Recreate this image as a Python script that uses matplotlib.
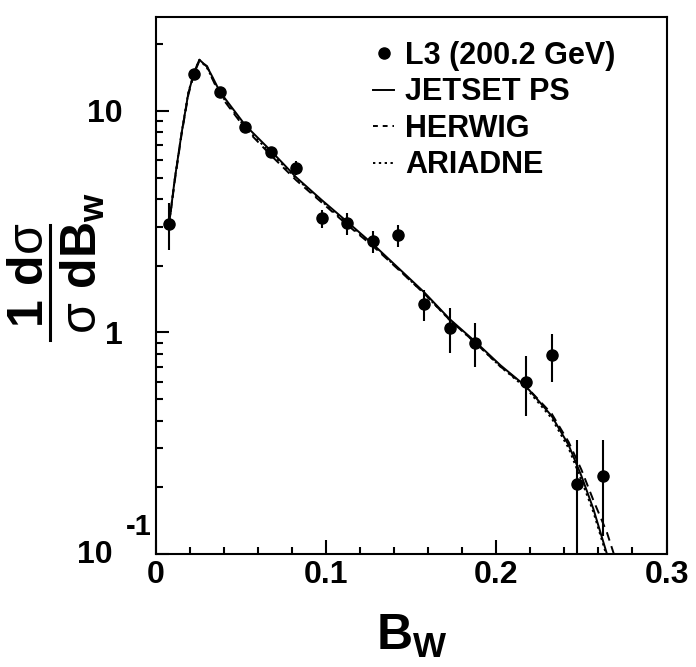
import matplotlib
matplotlib.use("Agg")
import matplotlib.pyplot as plt
from matplotlib.lines import Line2D
from matplotlib.ticker import FixedLocator, MultipleLocator, NullFormatter, FuncFormatter
import numpy as np

plt.rcParams['font.family'] = ['Liberation Sans', 'DejaVu Sans']
plt.rcParams['font.weight'] = 'bold'
plt.rcParams['mathtext.fontset'] = 'custom'
plt.rcParams['mathtext.bf'] = 'Liberation Sans:bold'
plt.rcParams['mathtext.rm'] = 'Liberation Sans:weight=normal'
plt.rcParams['mathtext.it'] = 'Liberation Sans:italic'

# ---- data (L3, 200.2 GeV) ----
data_x = [0.0075, 0.0225, 0.0375, 0.0525, 0.0675, 0.0825, 0.0975, 0.1125, 0.1275,
          0.1425, 0.1575, 0.1725, 0.1875, 0.2175, 0.2325, 0.2475, 0.2625]
data_y = [3.1, 14.7, 12.2, 8.47, 6.54, 5.53, 3.27, 3.11, 2.58,
          2.74, 1.34, 1.05, 0.90, 0.60, 0.79, 0.206, 0.224]
data_err = [0.75, 0.5, 0.4, 0.35, 0.3, 0.4, 0.3, 0.35, 0.3,
            0.32, 0.22, 0.24, 0.2, 0.18, 0.19, 0.12, 0.103]

# ---- MC predictions ----
mc_x = [0.0075, 0.0110, 0.0150, 0.0190, 0.0225, 0.0255, 0.0300, 0.0330, 0.0375,
        0.0525, 0.0675, 0.0825, 0.0975, 0.1125, 0.1275, 0.1425, 0.1575, 0.1725,
        0.1875, 0.2025, 0.2175, 0.2325, 0.2425, 0.2500, 0.2570, 0.2650, 0.2700]
jetset_y = [3.0, 4.9, 7.9, 12.0, 15.0, 17.0, 15.8, 14.3, 12.2,
            8.6, 6.6, 5.0, 3.95, 3.15, 2.5, 1.95, 1.52, 1.15,
            0.91, 0.71, 0.57, 0.42, 0.31, 0.225, 0.16, 0.10, 0.075]
herwig_y = [3.0, 4.8, 7.8, 11.8, 14.8, 16.8, 15.9, 14.0, 11.8,
            8.3, 6.3, 4.85, 3.85, 3.05, 2.45, 1.92, 1.50, 1.14,
            0.90, 0.70, 0.57, 0.43, 0.32, 0.24, 0.175, 0.125, 0.095]
ariadne_y = [3.0, 4.9, 7.9, 12.1, 15.0, 17.0, 15.6, 14.1, 12.0,
             8.4, 6.45, 4.95, 3.9, 3.1, 2.48, 1.93, 1.50, 1.14,
             0.90, 0.70, 0.56, 0.41, 0.30, 0.215, 0.155, 0.097, 0.072]

legend_labels = ['L3 (200.2 GeV)', 'JETSET PS', 'HERWIG', 'ARIADNE']

W, H = 696, 667
fig = plt.figure(figsize=(W / 100, H / 100), dpi=100)
L, R, T, B = 156, 666.5, 17, 554
ax = fig.add_axes([L / W, 1 - B / H, (R - L) / W, (B - T) / H])

ax.set_yscale('log')
ax.set_xlim(0, 0.3)
ax.set_ylim(0.1, 26.5)

lw = 1.4
ax.plot(mc_x, jetset_y, color='black', lw=lw, ls='-')
ax.plot(mc_x, herwig_y, color='black', lw=lw, ls=(0, (4.5, 3)))
ax.plot(mc_x, ariadne_y, color='black', lw=lw, ls=(0, (1.2, 1.8)))
ax.errorbar(data_x, data_y, yerr=data_err, fmt='o', color='black', ms=8,
            elinewidth=1.5, capsize=0)

# axes style
for s in ax.spines.values():
    s.set_linewidth(1.5)
ax.xaxis.set_major_locator(MultipleLocator(0.1))
ax.xaxis.set_minor_locator(MultipleLocator(0.02))
ax.xaxis.set_major_formatter(FuncFormatter(lambda v, p: '0' if abs(v) < 1e-9 else f'{v:.1f}'))
ax.yaxis.set_major_locator(FixedLocator([0.1, 1, 10]))
ax.yaxis.set_minor_locator(FixedLocator([k * 10.0 ** e for e in (-1, 0, 1) for k in range(2, 10)]))
ax.yaxis.set_minor_formatter(NullFormatter())
ax.yaxis.set_major_formatter(FuncFormatter(lambda v, p: '' if v < 0.5 else f'{int(round(v))}'))
ax.tick_params(axis='both', which='both', direction='in', top=False, right=False,
               width=1.5, labelsize=23)
ax.tick_params(axis='x', which='major', length=10, pad=4)
ax.tick_params(axis='x', which='minor', length=5.4)
ax.tick_params(axis='y', which='major', length=9.4, pad=24)
ax.tick_params(axis='y', which='minor', length=5)
for lab in ax.get_xticklabels() + ax.get_yticklabels():
    lab.set_fontweight('bold')

# 10^-1 label in the original's layout
ax.annotate('10', xy=(0, 0.1), xycoords=('axes fraction', 'data'),
            xytext=(-79, -1), textcoords='offset pixels', ha='left', va='center',
            fontsize=23, fontweight='bold')
ax.annotate('-1', xy=(0, 0.1), xycoords=('axes fraction', 'data'),
            xytext=(-30, 27), textcoords='offset pixels', ha='left', va='center',
            fontsize=21, fontweight='bold')

# legend
handles = [Line2D([], [], ls='none', marker='o', color='black', ms=8),
           Line2D([], [], color='black', lw=lw, ls='-'),
           Line2D([], [], color='black', lw=lw, ls=(0, (2.5, 2.5))),
           Line2D([], [], color='black', lw=lw, ls=(0, (1.2, 1.8)))]
ax.legend(handles, legend_labels, loc='upper left',
          bbox_to_anchor=((373 - L) / (R - L), (B - 41) / (B - T)),
          frameon=False, handlelength=0.7, handletextpad=0.35,
          labelspacing=0.21, borderpad=0, borderaxespad=0,
          prop={'weight': 'bold', 'size': 22})

# y axis title: fraction 1/sigma dsigma/dB_w
fig.text(43 / W, 1 - 275 / H, r'$\mathbf{1\ d}\mathrm{\sigma}$', rotation=90,
         rotation_mode='anchor', ha='center', va='baseline', fontsize=36)
fig.text(97 / W, 1 - 263 / H, r'$\mathrm{\sigma}\ \mathbf{dB_{w}}$', rotation=90,
         rotation_mode='anchor', ha='center', va='baseline', fontsize=36)
fig.add_artist(Line2D([49.5 / W, 49.5 / W], [1 - 225 / H, 1 - 340 / H],
                      color='black', lw=2.2, transform=fig.transFigure))

# x axis title
fig.text(412 / W, 1 - 650 / H, r'$\mathbf{B_{W}}$', ha='center', va='baseline', fontsize=36)

fig.savefig('out.png', dpi=100)
